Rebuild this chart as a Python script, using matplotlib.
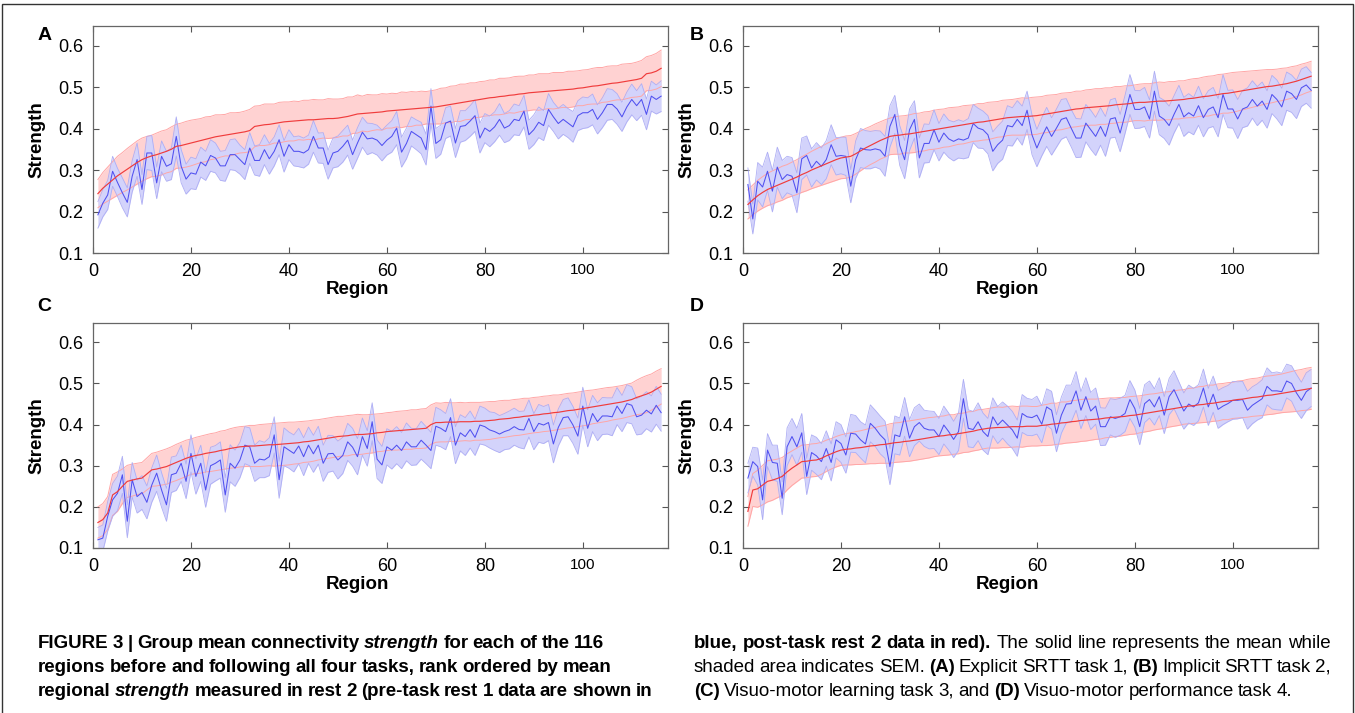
import matplotlib
matplotlib.use('Agg')
import matplotlib.pyplot as plt
from matplotlib.patches import Rectangle

# region rank 1..116
regions = list(range(1, 117))

# ---- panel A: explicit SRTT task 1 ----
blue_a = [0.192, 0.220, 0.240, 0.297, 0.270, 0.245, 0.222, 0.285, 0.325, 0.253,
          0.341, 0.341, 0.269, 0.333, 0.309, 0.315, 0.381, 0.309, 0.278, 0.293,
          0.290, 0.319, 0.310, 0.335, 0.329, 0.310, 0.310, 0.337, 0.337, 0.325,
          0.313, 0.353, 0.323, 0.323, 0.349, 0.327, 0.345, 0.373, 0.333, 0.361,
          0.345, 0.345, 0.341, 0.349, 0.381, 0.353, 0.353, 0.313, 0.341, 0.345,
          0.357, 0.372, 0.337, 0.365, 0.391, 0.375, 0.377, 0.372, 0.359, 0.372,
          0.381, 0.401, 0.343, 0.364, 0.393, 0.385, 0.377, 0.349, 0.454, 0.364,
          0.373, 0.413, 0.418, 0.365, 0.405, 0.407, 0.418, 0.431, 0.377, 0.401,
          0.393, 0.404, 0.422, 0.401, 0.407, 0.422, 0.419, 0.442, 0.385, 0.397,
          0.415, 0.407, 0.446, 0.428, 0.412, 0.422, 0.413, 0.404, 0.431, 0.438,
          0.438, 0.446, 0.422, 0.438, 0.458, 0.458, 0.447, 0.428, 0.452, 0.470,
          0.455, 0.470, 0.434, 0.478, 0.470, 0.478]
blue_sem_a = [0.032, 0.033, 0.035, 0.036, 0.034, 0.036, 0.035, 0.038, 0.040, 0.036,
              0.040, 0.042, 0.038, 0.037, 0.036, 0.038, 0.047, 0.040, 0.036, 0.038,
              0.037, 0.036, 0.035, 0.038, 0.036, 0.035, 0.037, 0.036, 0.038, 0.035,
              0.036, 0.037, 0.035, 0.038, 0.036, 0.037, 0.035, 0.036, 0.038, 0.036,
              0.035, 0.037, 0.036, 0.035, 0.038, 0.036, 0.037, 0.035, 0.036, 0.037,
              0.038, 0.036, 0.035, 0.037, 0.036, 0.038, 0.035, 0.036, 0.037, 0.036,
              0.038, 0.040, 0.036, 0.037, 0.035, 0.036, 0.038, 0.037, 0.042, 0.036,
              0.035, 0.037, 0.036, 0.035, 0.038, 0.036, 0.037, 0.038, 0.036, 0.035,
              0.037, 0.036, 0.038, 0.035, 0.036, 0.037, 0.036, 0.038, 0.035, 0.036,
              0.037, 0.036, 0.038, 0.035, 0.037, 0.036, 0.035, 0.037, 0.036, 0.038,
              0.036, 0.037, 0.035, 0.036, 0.038, 0.036, 0.037, 0.035, 0.036, 0.037,
              0.036, 0.038, 0.037, 0.036, 0.035, 0.037]
red_a = [0.243, 0.256, 0.266, 0.276, 0.286, 0.294, 0.302, 0.310, 0.318, 0.325,
         0.330, 0.334, 0.337, 0.341, 0.345, 0.350, 0.357, 0.359, 0.362, 0.365,
         0.368, 0.371, 0.374, 0.377, 0.380, 0.382, 0.384, 0.386, 0.388, 0.390,
         0.392, 0.395, 0.405, 0.407, 0.409, 0.410, 0.412, 0.414, 0.416, 0.417,
         0.418, 0.419, 0.420, 0.421, 0.421, 0.422, 0.423, 0.424, 0.424, 0.425,
         0.427, 0.429, 0.432, 0.435, 0.436, 0.437, 0.438, 0.439, 0.440, 0.442,
         0.443, 0.444, 0.445, 0.446, 0.447, 0.448, 0.449, 0.450, 0.451, 0.452,
         0.454, 0.456, 0.458, 0.460, 0.462, 0.464, 0.466, 0.468, 0.470, 0.472,
         0.474, 0.475, 0.477, 0.478, 0.480, 0.481, 0.483, 0.484, 0.486, 0.487,
         0.488, 0.489, 0.490, 0.491, 0.492, 0.493, 0.494, 0.495, 0.497, 0.498,
         0.500, 0.502, 0.503, 0.505, 0.507, 0.509, 0.510, 0.512, 0.514, 0.516,
         0.518, 0.521, 0.532, 0.534, 0.538, 0.545]
red_sem_a = [0.034, 0.038, 0.041, 0.044, 0.047, 0.048, 0.050, 0.051, 0.052, 0.052,
             0.051, 0.050, 0.052, 0.053, 0.052, 0.054, 0.053, 0.054, 0.055, 0.055,
             0.054, 0.053, 0.054, 0.052, 0.053, 0.051, 0.050, 0.052, 0.050, 0.049,
             0.050, 0.051, 0.049, 0.048, 0.050, 0.049, 0.047, 0.049, 0.048, 0.047,
             0.048, 0.046, 0.048, 0.047, 0.049, 0.047, 0.046, 0.048, 0.047, 0.046,
             0.045, 0.047, 0.044, 0.046, 0.042, 0.045, 0.043, 0.042, 0.044, 0.041,
             0.042, 0.040, 0.043, 0.041, 0.042, 0.040, 0.041, 0.039, 0.040, 0.041,
             0.043, 0.042, 0.044, 0.043, 0.045, 0.043, 0.044, 0.042, 0.043, 0.042,
             0.043, 0.042, 0.044, 0.043, 0.042, 0.044, 0.043, 0.042, 0.043, 0.042,
             0.044, 0.043, 0.042, 0.044, 0.043, 0.042, 0.044, 0.043, 0.042, 0.043,
             0.042, 0.043, 0.044, 0.042, 0.043, 0.042, 0.041, 0.043, 0.042, 0.041,
             0.042, 0.043, 0.041, 0.042, 0.043, 0.044]

# ---- panel B: implicit SRTT task 2 ----
blue_b = [0.265, 0.182, 0.273, 0.259, 0.297, 0.249, 0.307, 0.277, 0.289, 0.285,
          0.245, 0.327, 0.335, 0.305, 0.321, 0.309, 0.325, 0.361, 0.333, 0.335,
          0.333, 0.261, 0.325, 0.353, 0.349, 0.348, 0.351, 0.348, 0.333, 0.405,
          0.434, 0.359, 0.325, 0.397, 0.422, 0.329, 0.364, 0.364, 0.397, 0.367,
          0.389, 0.375, 0.369, 0.375, 0.372, 0.377, 0.412, 0.401, 0.397, 0.385,
          0.345, 0.361, 0.372, 0.407, 0.404, 0.422, 0.407, 0.444, 0.385, 0.353,
          0.380, 0.404, 0.381, 0.401, 0.422, 0.426, 0.401, 0.377, 0.377, 0.413,
          0.397, 0.381, 0.405, 0.381, 0.423, 0.426, 0.389, 0.434, 0.482, 0.446,
          0.446, 0.452, 0.423, 0.490, 0.430, 0.422, 0.407, 0.434, 0.458, 0.428,
          0.438, 0.430, 0.455, 0.426, 0.446, 0.452, 0.426, 0.482, 0.447, 0.447,
          0.423, 0.447, 0.452, 0.470, 0.454, 0.466, 0.446, 0.482, 0.470, 0.452,
          0.490, 0.484, 0.470, 0.498, 0.505, 0.492]
blue_sem_b = [0.040, 0.036, 0.045, 0.048, 0.046, 0.050, 0.048, 0.046, 0.044, 0.045,
              0.048, 0.050, 0.047, 0.046, 0.045, 0.044, 0.046, 0.048, 0.045, 0.044,
              0.046, 0.040, 0.045, 0.047, 0.046, 0.045, 0.044, 0.046, 0.048, 0.050,
              0.046, 0.048, 0.046, 0.050, 0.045, 0.048, 0.047, 0.046, 0.048, 0.045,
              0.046, 0.045, 0.047, 0.046, 0.045, 0.047, 0.046, 0.048, 0.045, 0.046,
              0.047, 0.045, 0.046, 0.048, 0.046, 0.045, 0.047, 0.046, 0.048, 0.045,
              0.046, 0.047, 0.045, 0.046, 0.048, 0.046, 0.045, 0.047, 0.046, 0.045,
              0.047, 0.046, 0.045, 0.048, 0.046, 0.047, 0.045, 0.046, 0.048, 0.046,
              0.045, 0.047, 0.046, 0.048, 0.045, 0.046, 0.047, 0.045, 0.046, 0.047,
              0.046, 0.045, 0.047, 0.046, 0.045, 0.047, 0.046, 0.048, 0.045, 0.046,
              0.047, 0.045, 0.046, 0.045, 0.047, 0.046, 0.045, 0.046, 0.047, 0.045,
              0.046, 0.045, 0.046, 0.045, 0.044, 0.043]
red_b = [0.217, 0.228, 0.238, 0.246, 0.253, 0.258, 0.263, 0.268, 0.273, 0.278,
         0.283, 0.289, 0.294, 0.300, 0.305, 0.310, 0.315, 0.320, 0.325, 0.329,
         0.331, 0.333, 0.339, 0.346, 0.353, 0.359, 0.365, 0.371, 0.376, 0.381,
         0.383, 0.384, 0.386, 0.387, 0.389, 0.391, 0.393, 0.395, 0.397, 0.399,
         0.401, 0.403, 0.405, 0.407, 0.409, 0.411, 0.413, 0.415, 0.416, 0.418,
         0.420, 0.422, 0.424, 0.426, 0.427, 0.428, 0.429, 0.429, 0.430, 0.431,
         0.433, 0.435, 0.437, 0.439, 0.441, 0.443, 0.445, 0.447, 0.448, 0.450,
         0.451, 0.452, 0.453, 0.454, 0.455, 0.457, 0.458, 0.459, 0.460, 0.462,
         0.463, 0.463, 0.464, 0.465, 0.466, 0.466, 0.467, 0.468, 0.469, 0.470,
         0.472, 0.473, 0.475, 0.477, 0.478, 0.480, 0.482, 0.484, 0.485, 0.487,
         0.489, 0.491, 0.493, 0.495, 0.497, 0.499, 0.501, 0.502, 0.504, 0.506,
         0.508, 0.511, 0.514, 0.518, 0.522, 0.526]
red_sem_b = [0.035, 0.036, 0.037, 0.038, 0.039, 0.040, 0.040, 0.041, 0.040, 0.041,
             0.042, 0.043, 0.044, 0.045, 0.046, 0.047, 0.048, 0.049, 0.050, 0.050,
             0.051, 0.050, 0.049, 0.048, 0.047, 0.046, 0.046, 0.045, 0.045, 0.044,
             0.045, 0.046, 0.045, 0.046, 0.047, 0.046, 0.047, 0.046, 0.047, 0.047,
             0.046, 0.047, 0.046, 0.045, 0.046, 0.045, 0.044, 0.045, 0.044, 0.045,
             0.044, 0.043, 0.044, 0.043, 0.043, 0.044, 0.045, 0.044, 0.045, 0.045,
             0.044, 0.045, 0.044, 0.043, 0.044, 0.043, 0.042, 0.043, 0.042, 0.043,
             0.043, 0.044, 0.043, 0.044, 0.043, 0.044, 0.043, 0.044, 0.043, 0.043,
             0.044, 0.045, 0.044, 0.045, 0.046, 0.045, 0.046, 0.045, 0.046, 0.045,
             0.046, 0.047, 0.046, 0.047, 0.048, 0.047, 0.048, 0.047, 0.048, 0.048,
             0.047, 0.046, 0.045, 0.044, 0.043, 0.042, 0.041, 0.040, 0.039, 0.039,
             0.038, 0.038, 0.037, 0.037, 0.036, 0.036]

# ---- panel C: visuo-motor learning task 3 ----
blue_c = [0.120, 0.124, 0.177, 0.217, 0.233, 0.278, 0.165, 0.266, 0.225, 0.235,
          0.211, 0.253, 0.282, 0.241, 0.205, 0.278, 0.282, 0.306, 0.262, 0.330,
          0.274, 0.306, 0.241, 0.300, 0.306, 0.314, 0.229, 0.306, 0.294, 0.314,
          0.350, 0.346, 0.306, 0.316, 0.314, 0.322, 0.375, 0.266, 0.346, 0.338,
          0.330, 0.348, 0.322, 0.350, 0.329, 0.350, 0.306, 0.329, 0.330, 0.314,
          0.325, 0.358, 0.345, 0.322, 0.371, 0.342, 0.407, 0.316, 0.302, 0.346,
          0.338, 0.350, 0.337, 0.358, 0.346, 0.346, 0.362, 0.350, 0.337, 0.396,
          0.391, 0.383, 0.417, 0.350, 0.380, 0.371, 0.388, 0.369, 0.399, 0.395,
          0.387, 0.383, 0.377, 0.383, 0.387, 0.395, 0.388, 0.387, 0.415, 0.383,
          0.403, 0.399, 0.405, 0.353, 0.393, 0.417, 0.419, 0.399, 0.372, 0.445,
          0.391, 0.427, 0.407, 0.421, 0.421, 0.419, 0.445, 0.427, 0.451, 0.447,
          0.419, 0.423, 0.435, 0.426, 0.447, 0.429]
blue_sem_c = [0.030, 0.032, 0.036, 0.040, 0.042, 0.045, 0.040, 0.042, 0.040, 0.041,
              0.040, 0.042, 0.044, 0.042, 0.040, 0.043, 0.042, 0.044, 0.042, 0.045,
              0.043, 0.044, 0.042, 0.045, 0.043, 0.044, 0.042, 0.045, 0.044, 0.043,
              0.045, 0.046, 0.044, 0.045, 0.043, 0.046, 0.044, 0.045, 0.046, 0.044,
              0.045, 0.043, 0.046, 0.044, 0.045, 0.046, 0.044, 0.045, 0.043, 0.046,
              0.044, 0.045, 0.046, 0.044, 0.045, 0.043, 0.046, 0.047, 0.045, 0.044,
              0.046, 0.045, 0.044, 0.046, 0.045, 0.044, 0.046, 0.045, 0.044, 0.046,
              0.045, 0.044, 0.046, 0.045, 0.044, 0.046, 0.045, 0.044, 0.046, 0.045,
              0.044, 0.046, 0.045, 0.044, 0.046, 0.045, 0.044, 0.046, 0.045, 0.044,
              0.046, 0.045, 0.044, 0.046, 0.045, 0.044, 0.046, 0.045, 0.044, 0.046,
              0.045, 0.044, 0.046, 0.045, 0.044, 0.046, 0.045, 0.044, 0.046, 0.045,
              0.044, 0.046, 0.045, 0.044, 0.046, 0.045]
red_c = [0.162, 0.169, 0.185, 0.229, 0.237, 0.250, 0.262, 0.265, 0.268, 0.270,
         0.280, 0.290, 0.292, 0.295, 0.298, 0.303, 0.308, 0.313, 0.318, 0.322,
         0.325, 0.327, 0.330, 0.332, 0.334, 0.337, 0.339, 0.342, 0.344, 0.346,
         0.347, 0.348, 0.348, 0.349, 0.350, 0.351, 0.351, 0.352, 0.353, 0.354,
         0.355, 0.356, 0.358, 0.359, 0.361, 0.363, 0.365, 0.367, 0.369, 0.371,
         0.372, 0.373, 0.375, 0.376, 0.376, 0.377, 0.378, 0.380, 0.381, 0.383,
         0.384, 0.385, 0.386, 0.387, 0.388, 0.389, 0.390, 0.391, 0.400, 0.405,
         0.405, 0.406, 0.406, 0.406, 0.407, 0.407, 0.407, 0.408, 0.408, 0.409,
         0.410, 0.411, 0.413, 0.414, 0.415, 0.417, 0.418, 0.420, 0.421, 0.423,
         0.424, 0.426, 0.427, 0.429, 0.430, 0.432, 0.434, 0.435, 0.437, 0.439,
         0.441, 0.443, 0.445, 0.447, 0.449, 0.451, 0.453, 0.455, 0.458, 0.461,
         0.466, 0.470, 0.474, 0.479, 0.486, 0.493]
red_sem_c = [0.038, 0.039, 0.040, 0.050, 0.048, 0.042, 0.039, 0.039, 0.038, 0.038,
             0.039, 0.040, 0.041, 0.042, 0.043, 0.043, 0.044, 0.044, 0.044, 0.043,
             0.044, 0.045, 0.045, 0.046, 0.046, 0.047, 0.047, 0.048, 0.049, 0.049,
             0.049, 0.050, 0.050, 0.051, 0.051, 0.051, 0.052, 0.052, 0.052, 0.052,
             0.051, 0.051, 0.050, 0.050, 0.050, 0.049, 0.049, 0.049, 0.049, 0.049,
             0.048, 0.049, 0.048, 0.049, 0.048, 0.047, 0.047, 0.046, 0.046, 0.046,
             0.046, 0.047, 0.047, 0.047, 0.048, 0.047, 0.048, 0.048, 0.048, 0.048,
             0.047, 0.048, 0.047, 0.047, 0.047, 0.046, 0.047, 0.046, 0.046, 0.046,
             0.046, 0.045, 0.045, 0.045, 0.044, 0.044, 0.044, 0.044, 0.043, 0.043,
             0.043, 0.043, 0.043, 0.043, 0.042, 0.042, 0.042, 0.042, 0.042, 0.042,
             0.042, 0.041, 0.041, 0.041, 0.041, 0.040, 0.040, 0.040, 0.040, 0.040,
             0.042, 0.044, 0.045, 0.044, 0.044, 0.043]

# ---- panel D: visuo-motor performance task 4 ----
blue_d = [0.270, 0.310, 0.298, 0.217, 0.338, 0.308, 0.306, 0.221, 0.346, 0.371,
          0.346, 0.380, 0.274, 0.332, 0.324, 0.310, 0.342, 0.308, 0.363, 0.354,
          0.326, 0.379, 0.377, 0.363, 0.353, 0.403, 0.391, 0.375, 0.363, 0.298,
          0.375, 0.371, 0.419, 0.367, 0.395, 0.405, 0.391, 0.387, 0.387, 0.371,
          0.399, 0.383, 0.364, 0.383, 0.463, 0.391, 0.388, 0.407, 0.383, 0.371,
          0.419, 0.399, 0.411, 0.399, 0.387, 0.367, 0.427, 0.419, 0.417, 0.423,
          0.401, 0.443, 0.435, 0.379, 0.423, 0.450, 0.451, 0.482, 0.435, 0.468,
          0.433, 0.445, 0.395, 0.395, 0.419, 0.415, 0.419, 0.427, 0.461, 0.439,
          0.395, 0.451, 0.461, 0.443, 0.468, 0.423, 0.468, 0.485, 0.459, 0.433,
          0.450, 0.443, 0.453, 0.489, 0.443, 0.474, 0.437, 0.445, 0.451, 0.459,
          0.459, 0.461, 0.435, 0.447, 0.455, 0.463, 0.493, 0.482, 0.482, 0.480,
          0.506, 0.500, 0.477, 0.459, 0.480, 0.489]
blue_sem_d = [0.036, 0.035, 0.045, 0.048, 0.040, 0.042, 0.044, 0.040, 0.046, 0.044,
              0.045, 0.047, 0.044, 0.043, 0.045, 0.044, 0.043, 0.045, 0.044, 0.046,
              0.044, 0.046, 0.045, 0.044, 0.046, 0.045, 0.044, 0.046, 0.045, 0.044,
              0.046, 0.045, 0.047, 0.045, 0.046, 0.045, 0.044, 0.046, 0.045, 0.044,
              0.046, 0.045, 0.044, 0.046, 0.047, 0.045, 0.044, 0.046, 0.045, 0.044,
              0.046, 0.045, 0.044, 0.046, 0.045, 0.044, 0.046, 0.045, 0.044, 0.046,
              0.045, 0.044, 0.046, 0.045, 0.044, 0.046, 0.045, 0.047, 0.045, 0.046,
              0.045, 0.044, 0.046, 0.045, 0.044, 0.046, 0.045, 0.044, 0.046, 0.045,
              0.044, 0.046, 0.045, 0.044, 0.046, 0.045, 0.044, 0.046, 0.045, 0.044,
              0.046, 0.045, 0.044, 0.046, 0.045, 0.044, 0.046, 0.045, 0.044, 0.046,
              0.045, 0.044, 0.046, 0.045, 0.044, 0.046, 0.045, 0.044, 0.046, 0.045,
              0.041, 0.043, 0.045, 0.044, 0.046, 0.045]
red_d = [0.189, 0.241, 0.244, 0.253, 0.262, 0.265, 0.269, 0.274, 0.285, 0.294,
         0.302, 0.310, 0.311, 0.313, 0.314, 0.318, 0.324, 0.329, 0.334, 0.338,
         0.340, 0.341, 0.343, 0.344, 0.346, 0.348, 0.349, 0.351, 0.352, 0.354,
         0.356, 0.357, 0.359, 0.360, 0.362, 0.364, 0.366, 0.368, 0.370, 0.372,
         0.373, 0.375, 0.376, 0.378, 0.380, 0.382, 0.384, 0.387, 0.389, 0.391,
         0.392, 0.393, 0.393, 0.394, 0.395, 0.395, 0.395, 0.396, 0.396, 0.396,
         0.398, 0.399, 0.401, 0.402, 0.404, 0.405, 0.407, 0.408, 0.410, 0.411,
         0.412, 0.413, 0.414, 0.416, 0.417, 0.418, 0.419, 0.420, 0.422, 0.423,
         0.425, 0.427, 0.429, 0.431, 0.433, 0.435, 0.437, 0.439, 0.441, 0.443,
         0.445, 0.446, 0.448, 0.449, 0.451, 0.452, 0.454, 0.456, 0.457, 0.459,
         0.461, 0.462, 0.464, 0.466, 0.467, 0.469, 0.471, 0.472, 0.474, 0.476,
         0.478, 0.480, 0.482, 0.484, 0.486, 0.488]
red_sem_d = [0.036, 0.040, 0.045, 0.048, 0.050, 0.049, 0.047, 0.046, 0.044, 0.042,
             0.041, 0.040, 0.040, 0.040, 0.040, 0.039, 0.038, 0.037, 0.037, 0.037,
             0.038, 0.039, 0.040, 0.041, 0.042, 0.043, 0.044, 0.045, 0.046, 0.048,
             0.048, 0.048, 0.049, 0.049, 0.049, 0.049, 0.049, 0.049, 0.048, 0.048,
             0.048, 0.049, 0.048, 0.049, 0.048, 0.049, 0.048, 0.049, 0.048, 0.048,
             0.049, 0.050, 0.049, 0.050, 0.050, 0.049, 0.050, 0.049, 0.048, 0.048,
             0.049, 0.050, 0.051, 0.050, 0.051, 0.050, 0.051, 0.051, 0.051, 0.051,
             0.050, 0.049, 0.049, 0.048, 0.048, 0.047, 0.047, 0.046, 0.046, 0.046,
             0.045, 0.045, 0.045, 0.044, 0.044, 0.044, 0.043, 0.043, 0.043, 0.042,
             0.043, 0.043, 0.044, 0.044, 0.045, 0.044, 0.045, 0.044, 0.045, 0.044,
             0.045, 0.045, 0.046, 0.046, 0.046, 0.047, 0.047, 0.047, 0.047, 0.047,
             0.048, 0.049, 0.050, 0.050, 0.051, 0.051]

panel_letters = ['A', 'B', 'C', 'D']
xticks = [0, 20, 40, 60, 80, 100]
yticks = [0.1, 0.2, 0.3, 0.4, 0.5, 0.6]

W, H = 1355, 713
fig = plt.figure(figsize=(W / 100, H / 100), dpi=100)
plt.rcParams['font.family'] = ['Liberation Sans', 'DejaVu Sans']

# axes boxes in pixels: left, top, right, bottom
boxes = [(93, 26, 668, 253), (743, 26, 1318, 253),
         (93, 323, 668, 548), (743, 323, 1318, 548)]
letter_pos = [(45, 35), (697, 35), (44, 306), (697, 306)]

panels = [(blue_a, blue_sem_a, red_a, red_sem_a),
          (blue_b, blue_sem_b, red_b, red_sem_b),
          (blue_c, blue_sem_c, red_c, red_sem_c),
          (blue_d, blue_sem_d, red_d, red_sem_d)]


def band(mean, sem):
    lo = [m - s for m, s in zip(mean, sem)]
    hi = [m + s for m, s in zip(mean, sem)]
    return lo, hi


for k, (bm, bs, rm, rs) in enumerate(panels):
    l, t, r, b = boxes[k]
    ax = fig.add_axes([l / W, 1 - b / H, (r - l) / W, (b - t) / H])

    rlo, rhi = band(rm, rs)
    blo, bhi = band(bm, bs)
    # shaded SEM: pink (rest 2) first, lavender (rest 1) painted over it
    ax.fill_between(regions, rlo, rhi, color='#ffd2d2', lw=0)
    ax.fill_between(regions, blo, bhi, color='#d3d3fb', lw=0)
    ax.plot(regions, rlo, color='#ffa6a6', lw=0.7)
    ax.plot(regions, rhi, color='#ffa6a6', lw=0.7)
    ax.plot(regions, blo, color='#aeaef4', lw=0.6)
    ax.plot(regions, bhi, color='#aeaef4', lw=0.6)
    ax.plot(regions, bm, color='#5050f0', lw=0.75)
    ax.plot(regions, rm, color='#f03c3c', lw=0.85)

    ax.set_xlim(0, 117.4)
    ax.set_ylim(0.1, 0.647)
    ax.set_xticks(xticks)
    ax.set_xticklabels([str(v) for v in xticks])
    ax.set_yticks(yticks)
    ax.set_yticklabels(['%.1f' % v for v in yticks])
    ax.tick_params(direction='in', top=True, right=True, length=4, width=0.8,
                   color='#555555', labelsize=13, pad=7)
    # matlab draws the 3-digit label a little smaller
    ax.get_xticklabels()[-1].set_fontsize(11)
    for s in ax.spines.values():
        s.set_color('#666666')
        s.set_linewidth(0.9)

    ax.set_ylabel('Strength', fontsize=13.5, fontweight='bold')
    ax.yaxis.set_label_coords(-0.082, 0.5)
    ax.set_xlabel('Region', fontsize=13.5, fontweight='bold')
    ax.xaxis.set_label_coords(0.46, -0.125)

    lx, ly = letter_pos[k]
    fig.text(lx / W, 1 - ly / H, panel_letters[k], fontsize=14,
             fontweight='bold', ha='center', va='center')

# frame round the whole figure
fig.patches.append(Rectangle((0.0015, -0.05), 0.997, 1.044, transform=fig.transFigure,
                             fill=False, lw=1.0, ec='#333333'))

# ----- caption -----
CAP_FONT = ['Liberation Sans Narrow', 'Liberation Sans']
CAP_FS = 13.5
renderer = fig.canvas.get_renderer()

left_lines = [
    [('FIGURE 3 | Group mean connectivity', 'bold', 'normal'),
     ('strength', 'bold', 'italic'),
     ('for each of the 116', 'bold', 'normal')],
    [('regions before and following all four tasks, rank ordered by mean', 'bold', 'normal')],
    [('regional', 'bold', 'normal'), ('strength', 'bold', 'italic'),
     ('measured in rest 2 (pre-task rest 1 data are shown in', 'bold', 'normal')],
]
right_lines = [
    [('blue, post-task rest 2 data in red).', 'bold', 'normal'),
     ('The solid line represents the mean while', 'normal', 'normal')],
    [('shaded area indicates SEM.', 'normal', 'normal'), ('(A)', 'bold', 'normal'),
     ('Explicit SRTT task 1,', 'normal', 'normal'), ('(B)', 'bold', 'normal'),
     ('Implicit SRTT task 2,', 'normal', 'normal')],
    [('(C)', 'bold', 'normal'), ('Visuo-motor learning task 3, and', 'normal', 'normal'),
     ('(D)', 'bold', 'normal'), ('Visuo-motor performance task 4.', 'normal', 'normal')],
]
baselines = [648, 672, 696]


def caption_line(x0, y, parts, x1=None):
    words = []
    for txt, weight, style in parts:
        for w in txt.split():
            words.append((w, weight, style))
    items = []
    for w, weight, style in words:
        tt = fig.text(0, 1 - y / H, w, fontsize=CAP_FS, fontweight=weight,
                      fontstyle=style, family=CAP_FONT, va='baseline', ha='left')
        items.append((tt, tt.get_window_extent(renderer).width))
    space = CAP_FS * 100 / 72 * 0.23
    if x1 is not None and len(items) > 1:
        space = (x1 - x0 - sum(wd for _, wd in items)) / (len(items) - 1)
    x = x0
    for tt, wd in items:
        tt.set_x(x / W)
        x += wd + space


for i, parts in enumerate(left_lines):
    caption_line(38, baselines[i], parts)
for i, parts in enumerate(right_lines):
    caption_line(694, baselines[i], parts, x1=1331 if i < 2 else None)

fig.savefig('out.png', dpi=100)
